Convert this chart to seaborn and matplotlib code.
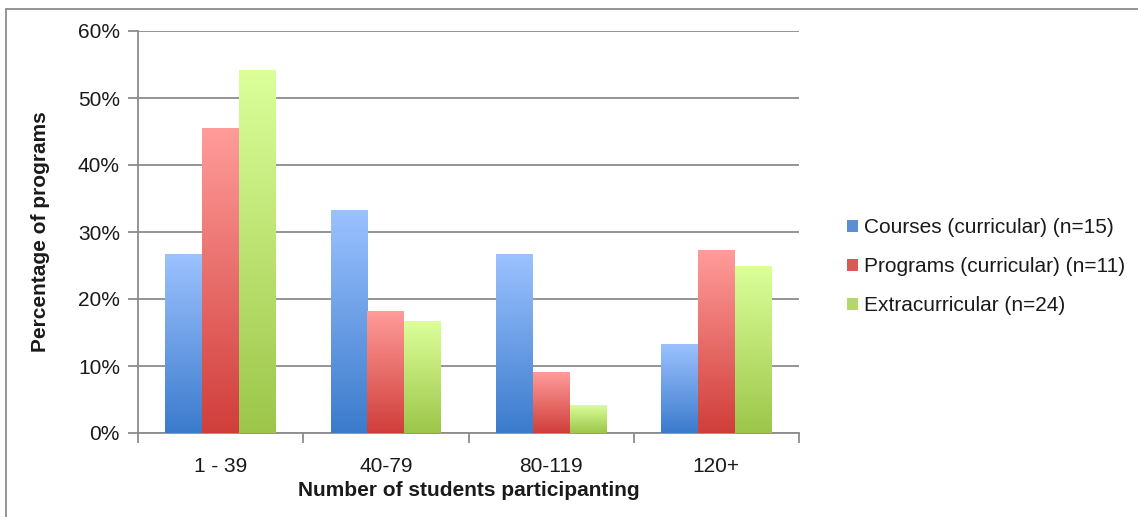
"""grouped bar chart of program sizes with excel-style gradient bars"""

import numpy as np
import pandas as pd
import seaborn as sns
import matplotlib.pyplot as plt
from matplotlib.colors import LinearSegmentedColormap
from matplotlib.patches import Patch
from matplotlib.lines import Line2D
from matplotlib.ticker import FixedLocator

categories = ["1 - 39", "40-79", "80-119", "120+"]
series = ["Courses (curricular) (n=15)", "Programs (curricular) (n=11)", "Extracurricular (n=24)"]
courses = [26.7, 33.3, 26.7, 13.3]
programs = [45.5, 18.2, 9.1, 27.3]
extracurricular = [54.2, 16.7, 4.2, 25.0]

# top (light) and bottom (dark) colours of each gradient
grad_top = ["#9cc2ff", "#ff9c9a", "#dcff9a"]
grad_bottom = ["#3b7bcc", "#d03e3a", "#9cc64a"]
legend_cols = ["#5a8fd6", "#dc5a56", "#b2d86a"]

df = pd.DataFrame({
    "Group": categories * 3,
    "Series": [s for s in series for _ in categories],
    "Value": courses + programs + extracurricular,
})

sns.set_style("white")
plt.rcParams["font.family"] = ["Liberation Sans", "DejaVu Sans"]
FS = 15

fig = plt.figure(figsize=(11.38, 5.17), dpi=100)
ax = fig.add_axes([138 / 1138, 84 / 517, 661 / 1138, 402 / 517])

sns.barplot(data=df, x="Group", y="Value", hue="Series", order=categories,
            hue_order=series, palette=legend_cols, width=0.67, legend=False,
            ax=ax, zorder=3)

# replace flat fills with vertical gradients
for i, cont in enumerate(ax.containers):
    cmap = LinearSegmentedColormap.from_list(f"g{i}", [grad_bottom[i], grad_top[i]])
    for bar in cont:
        x0, y0 = bar.get_x(), bar.get_y()
        w, h = bar.get_width(), bar.get_height()
        bar.set_facecolor("none")
        bar.set_edgecolor("none")
        grad = np.linspace(0, 1, 256).reshape(-1, 1)
        im = ax.imshow(grad, cmap=cmap, origin="lower", aspect="auto",
                       extent=[x0, x0 + w, y0, y0 + h], zorder=3)
        im.set_clip_path(bar)

ax.set_xlim(-0.5, 3.5)
ax.set_ylim(0, 60)
ax.set_yticks(range(0, 61, 10))
ax.set_yticklabels([f"{v}%" for v in range(0, 61, 10)])
ax.yaxis.grid(True, color="#8c8c8c", linewidth=1.3, zorder=0)
ax.set_axisbelow(True)

for side in ["top", "right"]:
    ax.spines[side].set_visible(False)
for side in ["left", "bottom"]:
    ax.spines[side].set_color("#8c8c8c")
    ax.spines[side].set_linewidth(1.3)

ax.tick_params(axis="y", left=True, length=7, width=1.3, color="#8c8c8c",
               labelsize=FS, labelcolor="#1a1a1a", pad=6)
ax.tick_params(axis="x", which="major", length=0, labelsize=FS,
               labelcolor="#1a1a1a", pad=17)
ax.xaxis.set_minor_locator(FixedLocator([-0.5, 0.5, 1.5, 2.5, 3.5]))
ax.tick_params(axis="x", which="minor", bottom=True, length=7, width=1.3,
               color="#8c8c8c")

ax.set_xlabel("Number of students participanting", fontsize=FS,
              fontweight="bold", labelpad=4, color="#1a1a1a")
ax.set_ylabel("Percentage of programs", fontsize=FS, fontweight="bold",
              labelpad=20, color="#1a1a1a")

handles = [Patch(facecolor=c, edgecolor="none") for c in legend_cols]
fig.legend(handles, series, loc="center left", bbox_to_anchor=(0.728, 0.484),
           frameon=False, fontsize=FS, handlelength=0.5, handleheight=0.5,
           handletextpad=0.3, labelspacing=0.95, labelcolor="#1a1a1a")

# outer chart-area border (top and left edges only visible)
fig.add_artist(Line2D([6 / 1138, 6 / 1138], [0, 1 - 9 / 517],
                      transform=fig.transFigure, color="#8c8c8c", linewidth=1.3))
fig.add_artist(Line2D([6 / 1138, 1], [1 - 9 / 517, 1 - 9 / 517],
                      transform=fig.transFigure, color="#8c8c8c", linewidth=1.3))

plt.savefig("out.png", dpi=100)
plt.close()
